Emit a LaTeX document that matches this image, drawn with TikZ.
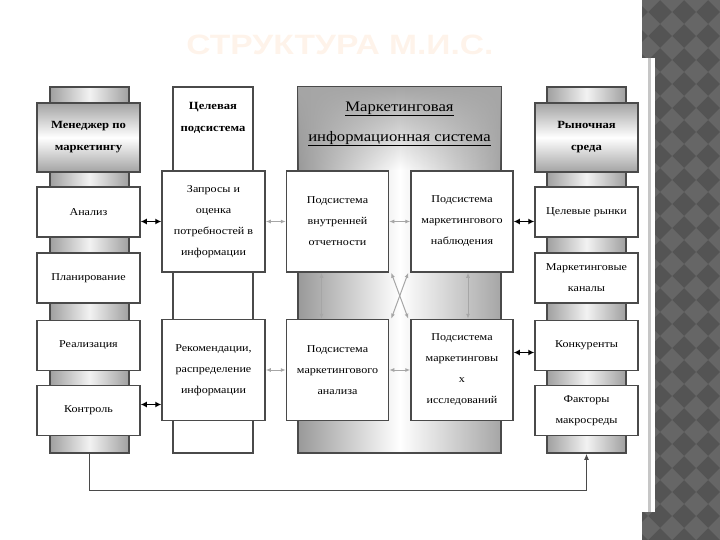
\documentclass[tikz,border=0pt]{standalone}
\usepackage{fontspec}
\setmainfont{Liberation Serif}[FakeStretch=1.15]
\newfontfamily\titlefont{Liberation Sans}[FakeStretch=1.2]
\usetikzlibrary{arrows.meta, fadings}
\definecolor{mEdge}{HTML}{4A4A4A}
\definecolor{mBar}{HTML}{A3A3A3}
\definecolor{mTitle}{HTML}{FEF3EA}
\definecolor{mTileD}{HTML}{545454}
\definecolor{mTileL}{HTML}{666666}

\begin{document}
\begin{tikzpicture}[x=1pt, y=-1pt,
    box/.style={draw=mEdge, line width=1.5pt, fill=white, minimum width=103, minimum height=50,
      inner sep=1pt, align=center, font=\fontsize{10.5}{21}\selectfont},
    bigbox/.style={box, minimum width=102, minimum height=101},
    head/.style={box, minimum height=69, top color=mBar, bottom color=mBar, middle color=white,
      font=\bfseries\fontsize{11}{22}\selectfont},
    bar/.style={draw=mEdge, line width=1.5pt, minimum height=366},
    greybar/.style={bar, minimum width=79, left color=gray!75, right color=gray!75, middle color=gray!10},
    blk/.style={{Latex[length=6pt,width=6pt]}-{Latex[length=6pt,width=6pt]}, line width=1.6pt, black},
    gry/.style={{Latex[length=5pt,width=4pt]}-{Latex[length=5pt,width=4pt]}, line width=1pt, gray!70}]
  \useasboundingbox (0,0) rectangle (720,540);
  % slide title
  \node[font=\titlefont\bfseries\fontsize{28}{28}\selectfont, text=mTitle] (title) at (340,45) {СТРУКТУРА М.И.С.};
  % back bars
  \node[greybar] (bar1) at (89.5,270) {};
  \node[bar, minimum width=80, fill=white] (bar2) at (213,270) {};
  \node[bar, minimum width=203, left color=gray!80, right color=gray!70, middle color=white] (bar3) at (399.5,270) {};
  \fill[black!35, path fading=south] ([xshift=1pt,yshift=-1pt]bar3.north west) rectangle ([xshift=-1pt,yshift=-84pt]bar3.north east);
  \node[greybar] (bar4) at (586.5,270) {};
  % manager
  \node[head] (mgr) at (88.5,137.5) {Менеджер по\\маркетингу};
  \node[box] (an) at (88.5,212)   {Анализ};
  \node[box] (pl) at (88.5,278)   {Планирование};
  \node[box] (re) at (88.5,345.5) {Реализация};
  \node[box] (ko) at (88.5,410.5) {Контроль};
  % target subsystem
  \node[font=\bfseries\fontsize{11}{22}\selectfont, align=center] (tgt) at (213,118) {Целевая\\подсистема};
  \node[bigbox, minimum width=103] (zap) at (213.5,221.5) {Запросы и\\оценка\\потребностей в\\информации};
  \node[bigbox, minimum width=103] (rek) at (213.5,370) {Рекомендации,\\распределение\\информации};
  % MIS
  \node[font=\fontsize{14.5}{30}\selectfont, align=center] (mis) at (399.5,124) {\underline{Маркетинговая}\\\underline{информационная система}};
  \node[bigbox] (vn)  at (337.5,221.5) {Подсистема\\внутренней\\отчетности};
  \node[bigbox] (nab) at (462,221.5)   {Подсистема\\маркетингового\\наблюдения};
  \node[bigbox] (ana) at (337.5,370)   {Подсистема\\маркетингового\\анализа};
  \node[bigbox] (iss) at (462,370)     {Подсистема\\маркетинговы\\х\\исследований};
  % market
  \node[head] (mkt) at (586.5,137.5) {Рыночная\\среда};
  \node[box] (cr)  at (586.5,212)   {Целевые рынки};
  \node[box] (kan) at (586.5,278)   {Маркетинговые\\каналы};
  \node[box] (kon) at (586.5,345.5) {Конкуренты};
  \node[box] (fak) at (586.5,410.5) {Факторы\\макросреды};
  % links
  \coordinate (k0) at ([yshift=6pt]ko.east);
  \coordinate (k1) at ([yshift=-7pt]kon.west);
  \draw[blk] (an.east|-zap.west) -- (zap.west);
  \draw[blk] (k0) -- (rek.west|-k0);
  \draw[blk] (nab.east) -- (cr.west|-nab.east);
  \draw[blk] (iss.east|-k1) -- (k1);
  \draw[gry] (zap.east) -- (vn.west);
  \draw[gry] (vn.east) -- (nab.west);
  \draw[gry] (rek.east) -- (ana.west);
  \draw[gry] (ana.east) -- (iss.west);
  \draw[gry] ([xshift=-16pt]vn.south) -- ([xshift=-16pt]ana.north);
  \draw[gry] ([xshift=6pt]nab.south) -- ([xshift=6pt]iss.north);
  \draw[gry] ([xshift=2pt]vn.south east) -- ([xshift=-2pt]iss.north west);
  \draw[gry] ([xshift=-2pt]nab.south west) -- ([xshift=2pt]ana.north east);
  \draw[line width=1.2pt, mEdge, -{Latex[length=6pt,width=5pt]}] (bar1.south) -- ++(0,37) -| (bar4.south);
  % side band
  \begin{scope}
    \clip (642,0) rectangle (720,58) (655,58) rectangle (720,512) (642,512) rectangle (720,540);
    \fill[mTileD] (642,0) rectangle (720,540);
    \foreach \i in {0,...,4} \foreach \j in {0,...,23}
      \fill[mTileL] (648+24*\i,24*\j) +(12,0) -- +(0,12) -- +(-12,0) -- +(0,-12) -- cycle;
  \end{scope}
  \fill[gray!45] (648,58) rectangle (651,512);
\end{tikzpicture}
\end{document}
